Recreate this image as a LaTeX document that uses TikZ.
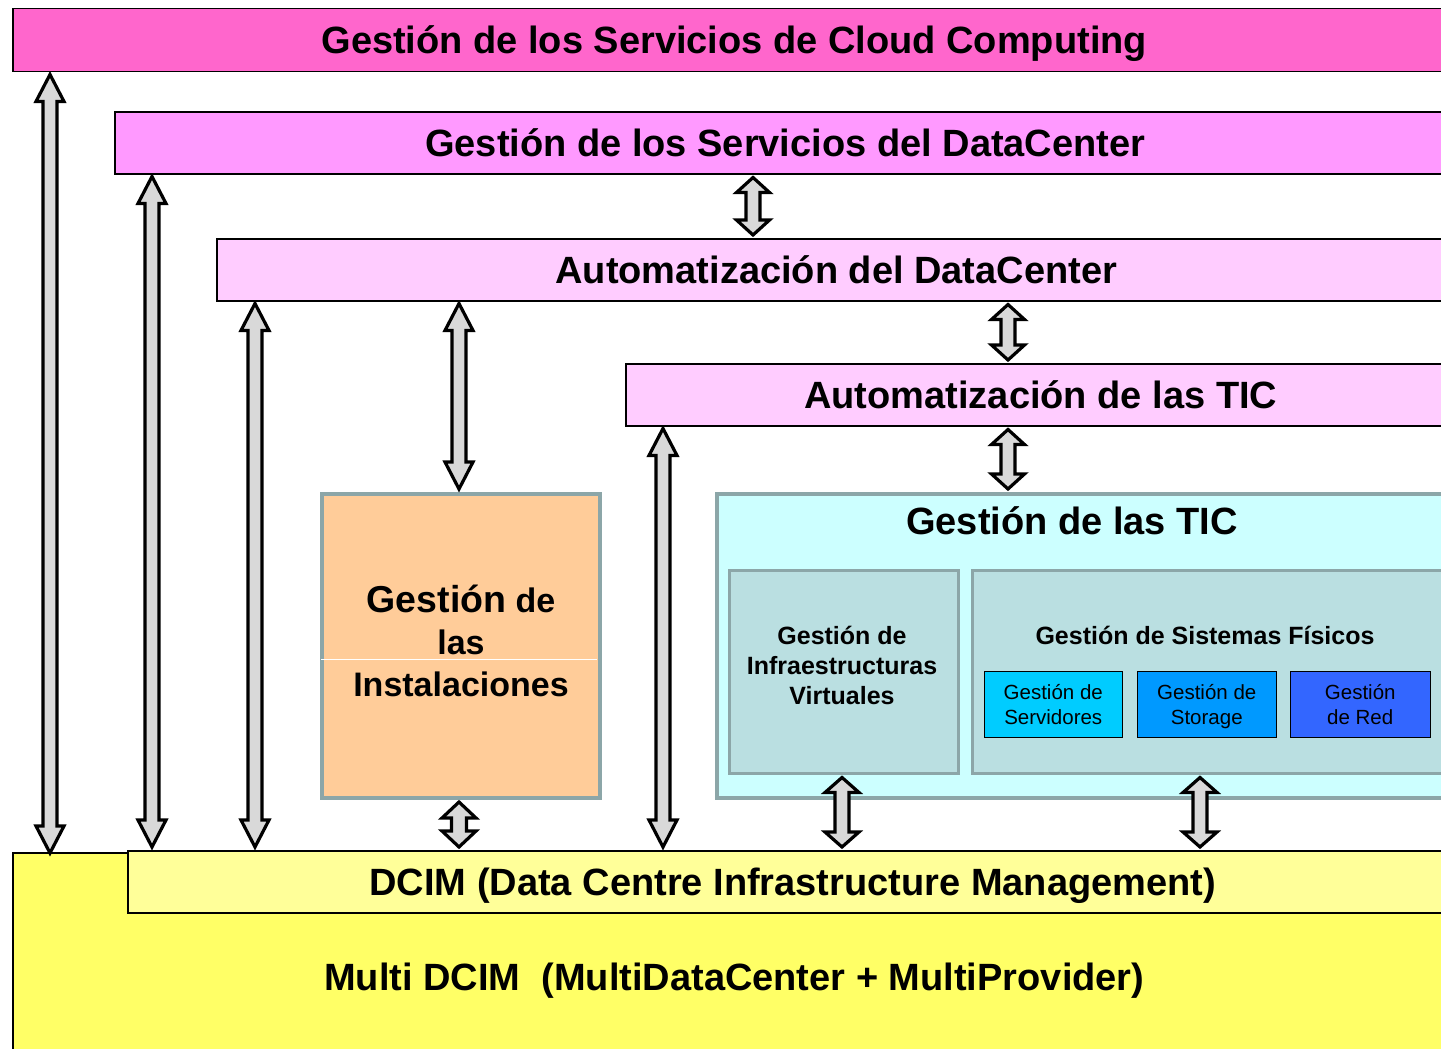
\documentclass[tikz,border=0pt]{standalone}
\usepackage{fontspec}
\setmainfont{Liberation Sans}
\usetikzlibrary{calc}
\definecolor{cloudc}{HTML}{FF66CC}
\definecolor{dcsvcc}{HTML}{FF99FF}
\definecolor{autoc}{HTML}{FFCCFF}
\definecolor{instc}{HTML}{FFCC99}
\definecolor{ticc}{HTML}{CCFFFF}
\definecolor{subc}{HTML}{BADFE1}
\definecolor{grayb}{HTML}{8CA6A8}
\definecolor{servc}{HTML}{00CCFF}
\definecolor{storc}{HTML}{0099FF}
\definecolor{redc}{HTML}{3366FF}
\definecolor{dcimc}{HTML}{FFFF99}
\definecolor{multic}{HTML}{FFFF66}
\definecolor{arrowc}{HTML}{D9D9D9}
\tikzset{
  bar/.style={draw=black, line width=1.5pt, anchor=north west, inner sep=0pt,
    font=\fontsize{38}{44}\selectfont\bfseries, text height=27pt, text depth=0pt},
  graybox/.style={draw=grayb, line width=4pt, anchor=north west, inner sep=0pt},
  subbox/.style={draw=grayb, line width=3pt, fill=subc, anchor=north west, inner sep=0pt},
  smallbox/.style={draw=black, line width=1.5pt, anchor=north west, inner sep=0pt,
    align=center, font=\fontsize{20.5}{25}\selectfont, text height=39.7pt, text depth=0pt},
  midtext/.style={inner sep=0pt, align=center, font=\fontsize{25}{30}\selectfont\bfseries,
    text height=18pt, text depth=0pt},
  blockarrow/.style={draw=black, line width=3.2pt, fill=arrowc, line join=miter},
}
% #1 x, #2 top node, #3 bottom node, #4 shaft half, #5 head half, #6 head length, #7 top inset, #8 bottom inset
\newcommand\dblarrow[8]{%
  \draw[blockarrow] let \p1=(#2.south), \p2=(#3.north), \p3=(#1,0) in
    (\x3,\y1-#7pt) -- (\x3+#5pt,\y1-#7pt-#6pt) -- (\x3+#4pt,\y1-#7pt-#6pt)
    -- (\x3+#4pt,\y2+#8pt+#6pt) -- (\x3+#5pt,\y2+#8pt+#6pt) -- (\x3,\y2+#8pt)
    -- (\x3-#5pt,\y2+#8pt+#6pt) -- (\x3-#4pt,\y2+#8pt+#6pt)
    -- (\x3-#4pt,\y1-#7pt-#6pt) -- (\x3-#5pt,\y1-#7pt-#6pt) -- cycle;}
\begin{document}
\begin{tikzpicture}[x=1pt,y=-1pt]
\useasboundingbox (0,0) rectangle (1441,1049);
\clip (0,0) rectangle (1441,1049);
\fill[white] (0,0) rectangle (1441,1049);

% horizontal bars
\node[bar, fill=cloudc, minimum width=1443pt, minimum height=63pt] (cloud) at (12,8)
  {Gestión de los Servicios de Cloud Computing};
\node[bar, fill=dcsvcc, minimum width=1341pt, minimum height=62pt] (dcsvc) at (114,111)
  {Gestión de los Servicios del DataCenter};
\node[bar, fill=autoc, minimum width=1239pt, minimum height=62pt] (autodc) at (216,238)
  {Automatización del DataCenter};
\node[bar, fill=autoc, minimum width=830pt, minimum height=62pt] (autotic) at (625,363)
  {Automatización de las TIC};

% Instalaciones
\node[graybox, fill=instc, minimum width=278pt, minimum height=304pt] (inst) at (320,492) {};
\draw[white, line width=0.8pt] (321,659) -- (597,659);
\node[inner sep=0pt, align=center, font=\fontsize{34}{42}\selectfont\bfseries,
  text height=110.5pt, text depth=0pt] (insttxt) at ($(inst.center)+(0,-5)$)
  {{\fontsize{37.5}{42}\selectfont Gestión} de\\las\\Instalaciones};

% Gestion de las TIC
\node[graybox, fill=ticc, minimum width=745pt, minimum height=304pt] (tic) at (715,492) {};
\node[inner sep=0pt, font=\fontsize{38}{44}\selectfont\bfseries, text height=27pt, text depth=0pt]
  (tictxt) at (1072,521) {Gestión de las TIC};
\node[subbox, minimum width=229pt, minimum height=203pt] (virt) at (727.5,568.5) {};
\node[midtext, text height=78pt] (virttxt) at (842,665) {Gestión de\\Infraestructuras\\Virtuales};
\node[subbox, minimum width=480pt, minimum height=203pt] (phys) at (970.5,568.5) {};
\node[midtext] (physttl) at (1205,635) {Gestión de Sistemas Físicos};
\node[smallbox, fill=servc, minimum width=138pt, minimum height=66pt] (serv) at (983.5,670.5)
  {Gestión de\\Servidores};
\node[smallbox, fill=storc, minimum width=139pt, minimum height=66pt] (stor) at (1136.5,670.5)
  {Gestión de\\Storage};
\node[smallbox, fill=redc, minimum width=140pt, minimum height=66pt] (red) at (1289.5,670.5)
  {Gestión\\de Red};

% Multi DCIM and DCIM
\node[bar, fill=multic, minimum width=1443pt, minimum height=248pt] (multi) at (12,852)
  {Multi DCIM\ \ (MultiDataCenter + MultiProvider)};
\node[bar, fill=dcimc, minimum width=1330pt, minimum height=62pt] (dcim) at (127,850)
  {DCIM (Data Centre Infrastructure Management)};

% arrows
\dblarrow{50}{cloud}{multi}{7}{14}{27}{2}{-1}
\dblarrow{152}{dcsvc}{dcim}{7}{14}{27}{2}{3}
\dblarrow{255}{autodc}{dcim}{7}{14}{27}{2}{3}
\dblarrow{459}{autodc}{inst}{7}{14}{27}{2}{3}
\dblarrow{663}{autotic}{dcim}{7}{14}{27}{2}{3}
\dblarrow{753}{dcsvc}{autodc}{7}{16.5}{15}{3}{3}
\dblarrow{1008}{autodc}{autotic}{7}{16.5}{15}{3}{3}
\dblarrow{1008}{autotic}{tic}{7}{16.5}{15}{3}{3}
\dblarrow{459}{inst}{dcim}{7.5}{17}{16}{2}{3}
\dblarrow{842}{virt}{dcim}{7}{17}{15}{3}{3}
\dblarrow{1200}{phys}{dcim}{7}{17}{15}{3}{3}
\end{tikzpicture}
\end{document}
